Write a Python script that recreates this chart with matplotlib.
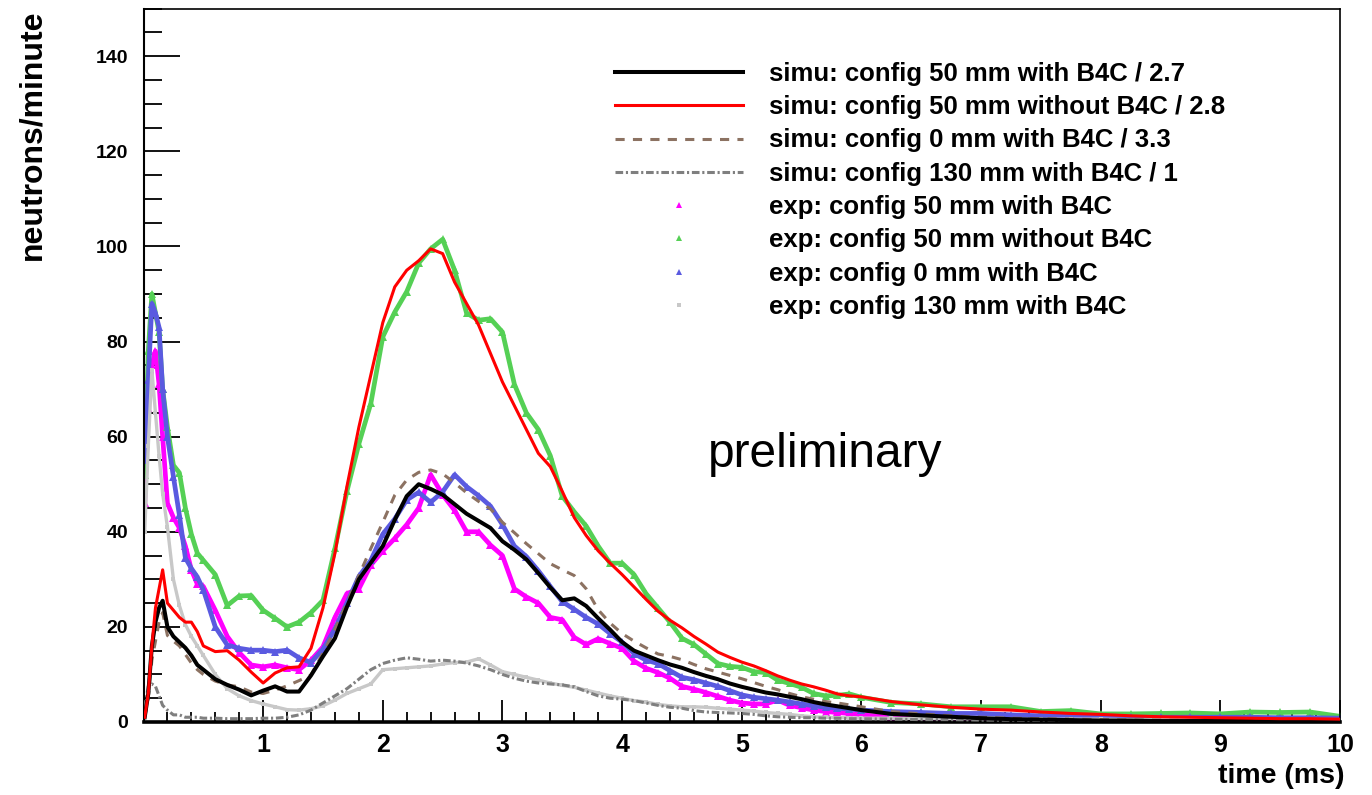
import matplotlib
matplotlib.use("Agg")
import matplotlib.pyplot as plt
from matplotlib.lines import Line2D
from matplotlib.ticker import MultipleLocator

plt.rcParams["font.family"] = ["Liberation Sans", "DejaVu Sans"]

# time bins (ms): fine near the prompt peak, 0.1 ms up to 6 ms, coarser tail
time_ms = [0.01, 0.04, 0.07, 0.10, 0.13, 0.16, 0.20, 0.25, 0.30, 0.35, 0.40, 0.45, 0.50,
           0.6, 0.7, 0.8, 0.9, 1.0, 1.1, 1.2, 1.3, 1.4, 1.5,
           1.6, 1.7, 1.8, 1.9, 2.0, 2.1, 2.2, 2.3, 2.4, 2.5,
           2.6, 2.7, 2.8, 2.9, 3.0, 3.1, 3.2, 3.3, 3.4, 3.5,
           3.6, 3.7, 3.8, 3.9, 4.0, 4.1, 4.2, 4.3, 4.4, 4.5,
           4.6, 4.7, 4.8, 4.9, 5.0, 5.1, 5.2, 5.3, 5.4, 5.5,
           5.6, 5.7, 5.8, 5.9, 6.0,
           6.25, 6.5, 6.75, 7.0, 7.25, 7.5, 7.75, 8.0, 8.25, 8.5, 8.75, 9.0, 9.25, 9.5, 9.75, 10.0]

# simulations (already divided by the scale factor in the legend)
simu_50_b4c = [1, 6, 16, 21, 24, 25.5, 20, 18, 16.8, 15.6, 14, 12, 11,
               9, 7.8, 6.8, 5.6, 6.6, 7.5, 6.4, 6.4, 9.8, 13.8,
               17.6, 24.2, 30, 33.5, 37, 42.5, 47.5, 50, 49, 47.8,
               45.8, 43.8, 42.3, 40.8, 38, 36.2, 34.2, 31.3, 28.3, 25.6,
               26, 24.4, 21.8, 19.4, 16.8, 15, 14, 13, 12.1, 11.4,
               10.5, 9.7, 9, 8.1, 7.4, 6.8, 6.2, 5.8, 5.3, 4.8,
               4.2, 3.7, 3.3, 2.9, 2.5,
               1.7, 1.4, 1.1, 0.8, 0.6, 0.5, 0.4, 0.3, 0.3, 0.2, 0.2, 0.2, 0.2, 0.1, 0.1, 0.1]
simu_50_nob4c = [1, 6, 16, 24, 28, 32, 25, 23.5, 22, 21, 21, 19, 16,
                 14.8, 15, 13, 10.5, 8.2, 10.3, 11.4, 11.6, 15.5, 24,
                 35.5, 49.5, 62, 73, 84, 91.5, 95, 97, 99.5, 98.5,
                 92.5, 88, 83.5, 77.5, 71.5, 66.5, 61.5, 56.5, 53.7, 48.5,
                 43, 39.2, 36, 33.4, 31, 28.4, 25.8, 23.3, 21.4, 19.8,
                 18, 16.4, 14.7, 13.6, 12.6, 11.8, 10.8, 9.7, 8.8, 8.0,
                 7.4, 6.7, 5.9, 5.5, 5.3,
                 4.3, 3.6, 3.1, 2.7, 2.5, 2.1, 1.8, 1.6, 1.3, 1.1, 1.0, 0.9, 0.8, 0.7, 0.7, 0.6]
simu_0_b4c = [1, 5, 13, 17, 21, 23, 18.2, 17, 16, 14.2, 12.4, 11, 10,
              8.6, 7.8, 7.4, 6.3, 6, 6.7, 7.6, 8.7, 9.9, 14.5,
              19.5, 25, 30.8, 36.5, 42, 47.7, 50.9, 52.5, 53, 52.2,
              50.3, 48.2, 46.4, 44.8, 42, 39.8, 37.5, 35.4, 33.3, 32,
              30.8, 28, 23.6, 20.8, 18.6, 17, 15.6, 14.3, 13.8, 13.1,
              12.1, 11.2, 10.5, 9.8, 9.1, 8.3, 7.5, 6.8, 6, 5.3,
              4.8, 4.3, 4, 3.6, 3.2,
              2.2, 1.7, 1.3, 1.0, 0.8, 0.7, 0.6, 0.5, 0.4, 0.4, 0.3, 0.3, 0.3, 0.3, 0.2, 0.2]
simu_130_b4c = [3, 7.5, 8, 7.5, 5.5, 3.5, 2.5, 1.5, 1.5, 1, 1, 1, 0.8,
                0.8, 0.7, 0.7, 0.7, 0.8, 0.8, 1, 1.5, 2.5, 4,
                5.5, 7, 9, 11, 12.3, 13, 13.5, 13.2, 12.8, 13,
                12.8, 12.4, 11.8, 11, 10, 9.2, 8.6, 8.2, 8, 7.8,
                7.4, 6.4, 5.5, 5, 4.8, 4.5, 4, 3.5, 3.1, 2.9,
                2.4, 2.1, 2, 1.9, 1.8, 1.6, 1.3, 1.1, 1, 0.9,
                0.9, 0.8, 0.8, 0.7, 0.7,
                0.6, 0.5, 0.5, 0.4, 0.4, 0.3, 0.3, 0.3, 0.3, 0.2, 0.2, 0.2, 0.2, 0.2, 0.2, 0.2]

# measurements
exp_50_b4c = [46, 66, 75, 78, 71, 60, 46, 43, 40.8, 37, 32, 29, 28.5,
              23.5, 18, 14.6, 12, 11.6, 12, 11.4, 11, 13, 15.8,
              22, 27, 28, 33, 36, 38.6, 41.5, 45, 52, 47.8,
              44.5, 40, 40, 37.2, 35, 28, 26.3, 25, 22, 21.5,
              17.8, 16.3, 17.5, 16.5, 15.5, 12.8, 11.3, 10.4, 9.2, 7.5,
              6.9, 6.2, 5.4, 4.6, 4, 3.8, 3.8, 4.6, 3.5, 3,
              2.5, 2.2, 2, 1.8, 1.5,
              1.0, 0.8, 0.6, 0.5, 0.4, 0.3, 0.3, 0.2, 0.2, 0.2, 0.1, 0.1, 0.1, 0.1, 0.1, 0.1]
exp_50_nob4c = [52, 78, 90, 86, 82, 70, 62, 54, 52.4, 45, 39.5, 35.5, 34,
                31, 24.5, 26.5, 26.6, 23.5, 21.8, 20, 21, 23, 25.6,
                36.5, 48.5, 58.5, 67, 81, 86.2, 90.5, 96.5, 99.5, 101.5,
                95, 86, 84.5, 84.8, 82, 71, 65, 61.5, 56, 47.5,
                44.2, 41.2, 37, 33.4, 33.4, 31, 27, 24, 21, 17.6,
                16.3, 14.3, 12.3, 11.7, 11.5, 10.6, 10.4, 8.8, 8.1, 7.3,
                6, 5.5, 5.6, 5.9, 5.2,
                4.1, 3.8, 3.2, 3.2, 3.2, 2.2, 2.4, 1.7, 1.7, 1.8, 1.9, 1.7, 2.1, 2.0, 2.1, 1.2]
exp_0_b4c = [55, 72, 88, 86, 83, 70, 60, 51.6, 43.5, 34.5, 32.3, 30.5, 27.8,
             20, 16.2, 15.5, 15.1, 15.1, 14.8, 15.1, 13.5, 12.5, 15.3,
             19.6, 25, 30.6, 34, 39.5, 42.7, 46.7, 48.3, 46.2, 48.4,
             52, 49.5, 47.6, 45.4, 41.5, 37, 34.8, 31.8, 28.5, 25.3,
             23.7, 22, 20.6, 18.6, 16.8, 14.4, 13, 12.3, 10.8, 9.4,
             8.9, 8.2, 7.5, 6.6, 5.7, 5.2, 4.9, 4.6, 4.2, 3.8,
             3.4, 3.1, 2.9, 2.7, 2.5,
             2.2, 2.0, 1.8, 1.8, 1.5, 1.3, 1.2, 1.1, 1.0, 1.0, 1.0, 1.0, 1.0, 0.9, 0.9, 0.8]
exp_130_b4c = [40, 58, 74, 65, 56, 48, 41, 30, 24.5, 20.5, 18, 16, 14,
               10, 7, 5.5, 4.5, 3.8, 3.2, 2.6, 2.5, 2.8, 3.4,
               4.6, 6, 7, 8, 11, 11.2, 11.4, 11.6, 11.8, 12.2,
               12.5, 12.6, 13.3, 12, 10.6, 10, 9.4, 8.8, 8.2, 7.7,
               7.3, 6.7, 6.1, 5.5, 5, 4.5, 4.2, 3.7, 3.4, 3.2,
               3.2, 3.1, 2.9, 2.7, 2.5, 2.3, 2, 1.8, 1.6, 1.3,
               1.1, 1, 0.9, 0.9, 0.8,
               0.8, 0.7, 0.7, 0.7, 0.6, 0.6, 0.6, 0.6, 0.5, 0.5, 0.5, 0.5, 0.5, 0.5, 0.5, 0.5]

simu_labels = ["simu: config 50 mm with B4C / 2.7",
               "simu: config 50 mm without B4C / 2.8",
               "simu: config 0 mm with B4C / 3.3",
               "simu: config 130 mm with B4C / 1"]
exp_labels = ["exp: config 50 mm with B4C",
              "exp: config 50 mm without B4C",
              "exp: config 0 mm with B4C",
              "exp: config 130 mm with B4C"]

W, H = 1372, 795
fig = plt.figure(figsize=(W / 100, H / 100), dpi=100)
ax = fig.add_axes([143.5 / W, 1 - 722 / H, (1340 - 143.5) / W, (722 - 8.7) / H])

# experimental points underneath the simulation curves
exp_styles = [("#ff00ff", "^", 5.5, 3.4), ("#55d055", "^", 5.5, 3.4),
              ("#5a5ae0", "^", 5.5, 3.4), ("#c8c8c8", "s", 3.5, 2.4)]
for vals, (col, mk, ms, lw) in zip([exp_50_b4c, exp_50_nob4c, exp_0_b4c, exp_130_b4c],
                                   exp_styles):
    ax.plot(time_ms, vals, color=col, lw=lw, marker=mk, ms=ms, mew=0, zorder=2)

ax.plot(time_ms, simu_130_b4c, color="#7f7f7f", lw=2.2, dashes=(2.5, 0.9, 0.7, 0.9), zorder=3)
ax.plot(time_ms, simu_0_b4c, color="#8c7262", lw=2.2, dashes=(3, 2.7), zorder=3)
ax.plot(time_ms, simu_50_b4c, color="black", lw=2.9, zorder=4)
ax.plot(time_ms, simu_50_nob4c, color="red", lw=2.2, zorder=4)

ax.set_xlim(0, 10)
ax.set_ylim(0, 150)

ax.set_xticks(range(1, 11))
ax.xaxis.set_minor_locator(MultipleLocator(0.2))
ax.yaxis.set_major_locator(MultipleLocator(20))
ax.yaxis.set_minor_locator(MultipleLocator(5))
ax.tick_params(axis="y", which="major", direction="in", length=26, width=1.3,
               labelsize=14, pad=11)
ax.tick_params(axis="y", which="minor", direction="in", length=13, width=1.3)
ax.tick_params(axis="x", which="major", direction="in", length=15.5, width=1.3,
               labelsize=18, pad=8)
ax.tick_params(axis="x", which="minor", direction="in", length=7.5, width=1.3)
for lab in ax.get_xticklabels() + ax.get_yticklabels():
    lab.set_fontweight("bold")

ax.spines["left"].set_linewidth(1.5)
ax.spines["bottom"].set_linewidth(2.6)
ax.spines["top"].set_linewidth(1.2)
ax.spines["right"].set_linewidth(1.2)

fig.text(32 / W, 1 - 9 / H, "neutrons/minute", rotation=90, ha="center", va="top",
         fontsize=23, fontweight="bold")
fig.text(1345 / W, 1 - 776 / H, "time (ms)", ha="right", va="center",
         fontsize=20.5, fontweight="bold")
ax.text(4.72, 53.6, "preliminary", fontsize=34.5, va="baseline", ha="left")

handles = [Line2D([], [], color="black", lw=2.9),
           Line2D([], [], color="red", lw=2.2),
           Line2D([], [], color="#8c7262", lw=2.2, dashes=(3, 2.7)),
           Line2D([], [], color="#7f7f7f", lw=2.2, dashes=(2.5, 0.9, 0.7, 0.9))]
for col, mk, ms, _ in exp_styles:
    handles.append(Line2D([], [], color=col, ls="none", marker=mk, ms=ms - 0.5, mew=0))
leg = ax.legend(handles, simu_labels + exp_labels, loc="upper left",
                bbox_to_anchor=(615 / W, 1 - 62 / H), bbox_transform=fig.transFigure,
                frameon=False, borderpad=0, borderaxespad=0, handlelength=5.0,
                handletextpad=1.0, labelspacing=0.36,
                prop={"size": 18.5, "weight": "bold"})

fig.savefig("out.png", dpi=100)
